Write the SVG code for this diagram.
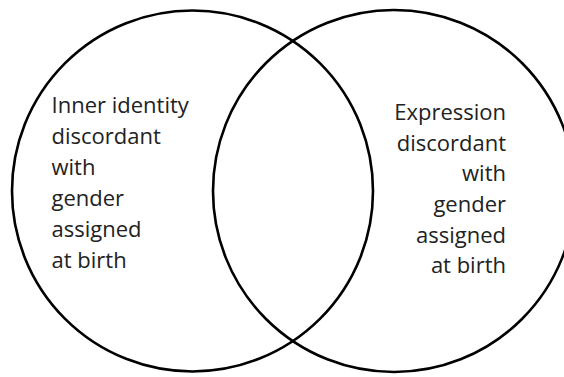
<svg xmlns="http://www.w3.org/2000/svg" width="564" height="377" viewBox="0 0 564 377">
<style>
.c{fill:none;stroke:#000;stroke-width:2.6}
.t{font-family:"Open Sans",Lato,"DejaVu Sans",sans-serif;font-size:22px;fill:#222}
.r{text-anchor:end}
</style>
<rect width="564" height="377" fill="#fff"/>
<g id="left">
<circle class="c" cx="192.5" cy="191" r="180.5"/>
<text class="t" x="51.5"><tspan x="51.5" y="113">Inner identity</tspan><tspan x="51.5" y="144">discordant</tspan><tspan x="51.5" y="175">with</tspan><tspan x="51.5" y="206">gender</tspan><tspan x="51.5" y="237">assigned</tspan><tspan x="51.5" y="268">at birth</tspan></text>
</g>
<g id="right">
<circle class="c" cx="394" cy="191" r="181"/>
<text class="t r"><tspan x="506" y="120">Expression</tspan><tspan x="506" y="150.7">discordant</tspan><tspan x="506" y="181.4">with</tspan><tspan x="506" y="212">gender</tspan><tspan x="506" y="242.7">assigned</tspan><tspan x="506" y="273.4">at birth</tspan></text>
</g>
<g id="connectors"></g>
</svg>
